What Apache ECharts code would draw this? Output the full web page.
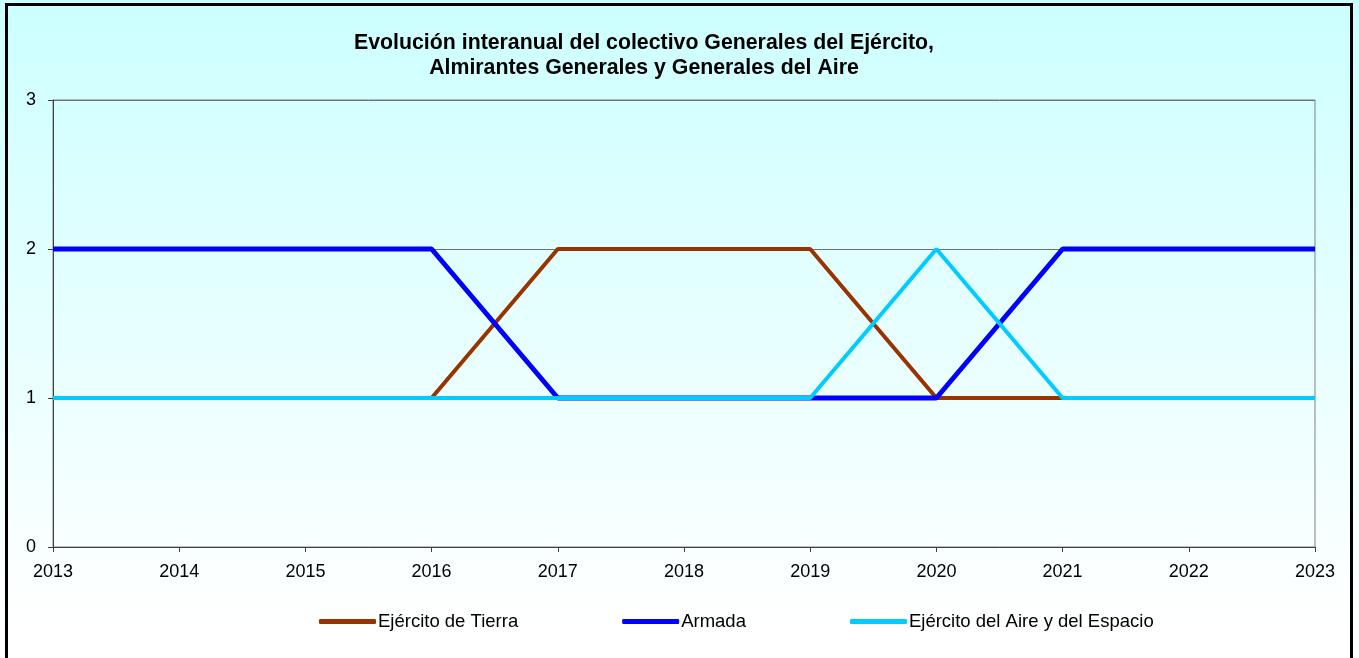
<!DOCTYPE html>
<html>
<head>
<meta charset="utf-8">
<script src="https://cdn.jsdelivr.net/npm/echarts@6/dist/echarts.min.js"></script>
<style>
  html, body { margin: 0; padding: 0; background: #fff; }
  #chart { width: 1359px; height: 658px; }
</style>
</head>
<body>
<div id="chart"></div>
<script>
// data
var years = ['2013', '2014', '2015', '2016', '2017', '2018', '2019', '2020', '2021', '2022', '2023'];
var tierra = [1, 1, 1, 1, 2, 2, 2, 1, 1, 1, 1];
var armada = [2, 2, 2, 2, 1, 1, 1, 1, 2, 2, 2];
var aire   = [1, 1, 1, 1, 1, 1, 1, 2, 1, 1, 1];
var seriesNames = ['Ejército de Tierra', 'Armada', 'Ejército del Aire y del Espacio'];

var chart = echarts.init(document.getElementById('chart'));
var font = 'Liberation Sans, Arial, sans-serif';

chart.setOption({
  backgroundColor: {
    type: 'linear', x: 0, y: 0, x2: 0, y2: 1,
    colorStops: [
      { offset: 0, color: '#ccffff' },
      { offset: 0.95, color: '#ffffff' },
      { offset: 1, color: '#ffffff' }
    ]
  },
  animation: false,
  title: {
    text: 'Evolución interanual del colectivo Generales del Ejército,\nAlmirantes Generales y Generales del Aire',
    left: 639,
    top: 26,
    textAlign: 'center',
    textStyle: {
      fontFamily: font,
      fontWeight: 'bold',
      fontSize: 21.3,
      lineHeight: 25,
      color: '#000'
    }
  },
  graphic: [{
    type: 'rect',
    shape: { x: 6.5, y: 4.5, width: 1345, height: 700 },
    style: { fill: 'none', stroke: '#000', lineWidth: 3 },
    silent: true
  }],
  grid: {
    left: 53, right: 44, top: 100, bottom: 111,
    show: true,
    borderColor: '#808080',
    borderWidth: 1,
    backgroundColor: 'transparent'
  },
  legend: {
    data: seriesNames,
    left: 314,
    top: 607,
    itemWidth: 57,
    itemHeight: 5,
    itemGap: 104,
    icon: 'roundRect',
    textStyle: { fontFamily: font, fontSize: 18.5, color: '#000', padding: [0, 0, 0, -3] }
  },
  xAxis: {
    type: 'category',
    data: years,
    boundaryGap: false,
    axisLine: { lineStyle: { color: '#404040', width: 1 } },
    axisTick: { show: true, length: 5, inside: false, lineStyle: { color: '#404040' } },
    axisLabel: { fontFamily: font, fontSize: 18, color: '#000', margin: 16 },
    splitLine: { show: false }
  },
  yAxis: {
    type: 'value',
    min: 0, max: 3, interval: 1,
    axisLine: { show: true, lineStyle: { color: '#404040', width: 1 } },
    axisTick: { show: true, length: 5, lineStyle: { color: '#404040' } },
    axisLabel: { fontFamily: font, fontSize: 18, color: '#000', margin: 17 },
    splitLine: { show: true, lineStyle: { color: '#707070', width: 1 } }
  },
  series: [
    {
      name: seriesNames[0], type: 'line', data: tierra,
      symbol: 'none', color: '#993300',
      lineStyle: { width: 4, color: '#993300' }
    },
    {
      name: seriesNames[1], type: 'line', data: armada,
      symbol: 'none', color: '#0000ff',
      lineStyle: { width: 5, color: '#0000ff' }
    },
    {
      name: seriesNames[2], type: 'line', data: aire,
      symbol: 'none', color: '#00ccff',
      lineStyle: { width: 4, color: '#00ccff' }
    }
  ]
});
</script>
</body>
</html>
